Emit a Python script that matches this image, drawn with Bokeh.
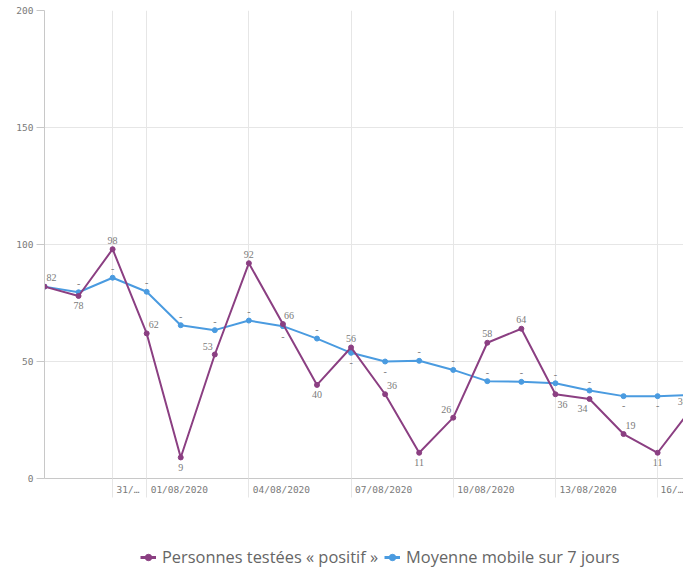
from bokeh.plotting import figure
from bokeh.layouts import column
from bokeh.models import Range1d, FixedTicker, LabelSet, ColumnDataSource, Legend, LegendItem
from bokeh.embed import file_html
from bokeh.resources import INLINE

# ---- data ----
dates = ["29/07/2020", "30/07/2020", "31/07/2020", "01/08/2020", "02/08/2020",
         "03/08/2020", "04/08/2020", "05/08/2020", "06/08/2020", "07/08/2020",
         "08/08/2020", "09/08/2020", "10/08/2020", "11/08/2020", "12/08/2020",
         "13/08/2020", "14/08/2020", "15/08/2020", "16/08/2020", "17/08/2020"]
positifs = [82, 78, 98, 62, 9, 53, 92, 66, 40, 56, 36, 11, 26, 58, 64, 36, 34, 19, 11, 30]
moyenne = [82, 79.6, 85.8, 79.8, 65.5, 63.4, 67.5, 65.1, 59.8, 53.7,
           50.0, 50.3, 46.4, 41.6, 41.3, 40.7, 37.6, 35.2, 35.2, 35.7]
moyenne_text = ["", "-", "-", "-", "-", "-", "-", "-", "-", "-",
                "-", "-", "-", "-", "-", "-", "-", "-", "-", "-"]
tick_dates = ["31/07/2020", "01/08/2020", "04/08/2020", "07/08/2020",
              "10/08/2020", "13/08/2020", "16/08/2020"]
tick_labels = ["31/…", "01/08/2020", "04/08/2020", "07/08/2020",
               "10/08/2020", "13/08/2020", "16/…"]
y_ticks = [0, 50, 100, 150, 200]
series_names = ["Personnes testées « positif »", "Moyenne mobile sur 7 jours"]

# ---- label placement (style) ----
pos_dx = [7, 0, 0, 7, 0, -7, 0, 6, 0, 0, 7, 0, -7, 0, 0, 7, -7, 7, 0, -9]
pos_dy = [9, -10, 9, 9, -10, 8, 9, 9, -10, 9, 9, -10, 8, 9, 9, -10, -10, 9, -10, 7]
moy_dy = [9, 9, 9, 9, 9, 9, 9, -10, 9, -10, -10, 9, 9, 9, 9, 9, 9, -9, -9, 9]

PURPLE = "#8b3f82"
BLUE = "#4a9be0"
GRID = "#e6e6e6"
AXIS = "#c8c8c8"
TXT = "#7a7a7a"
MONO = "DejaVu Sans Mono"
TICK_PX = 9.5

W = 683
MAIN_H, LEG_H = 505, 68
LEFT, TOP, BOTTOM = 44, 10, 27
X_END = 18.76
px_per_unit = (W - LEFT) / X_END

idx = list(range(len(dates)))
tick_idx = [dates.index(d) for d in tick_dates]
# labels start 4px right of their grid line (centre computed from mono glyph width)
label_pos = [t + (4 + len(s) * 0.602 * TICK_PX / 2) / px_per_unit for t, s in zip(tick_idx, tick_labels)]

p = figure(width=W, height=MAIN_H, x_range=Range1d(0, X_END), y_range=Range1d(0, 200),
           output_backend="svg", toolbar_location=None,
           min_border_left=LEFT, min_border_right=0, min_border_top=TOP, min_border_bottom=BOTTOM)
p.outline_line_color = None
p.background_fill_color = "white"
p.border_fill_color = "white"

# y axis
p.yaxis.ticker = FixedTicker(ticks=y_ticks)
p.yaxis.major_tick_out = 8
p.yaxis.major_tick_in = 0
p.yaxis.minor_tick_line_color = None
p.yaxis.major_tick_line_color = AXIS
p.yaxis.axis_line_color = AXIS
p.yaxis.major_label_standoff = 3
p.yaxis.major_label_text_font = MONO
p.yaxis.major_label_text_font_size = f"{TICK_PX}px"
p.yaxis.major_label_text_color = TXT

# x axis: labels at shifted positions, grid-line extensions drawn as minor ticks
p.xaxis.ticker = FixedTicker(ticks=label_pos, minor_ticks=tick_idx)
p.xaxis.major_label_overrides = {pos: lab for pos, lab in zip(label_pos, tick_labels)}
p.xaxis.major_tick_out = 0
p.xaxis.major_tick_in = 0
p.xaxis.major_tick_line_color = None
p.xaxis.minor_tick_out = 19
p.xaxis.minor_tick_in = 0
p.xaxis.minor_tick_line_color = GRID
p.xaxis.axis_line_color = AXIS
p.xaxis.major_label_standoff = -14
p.xaxis.major_label_text_font = MONO
p.xaxis.major_label_text_font_size = f"{TICK_PX}px"
p.xaxis.major_label_text_color = TXT

p.xgrid.ticker = FixedTicker(ticks=tick_idx)
p.xgrid.grid_line_color = GRID
p.ygrid.ticker = FixedTicker(ticks=y_ticks)
p.ygrid.grid_line_color = GRID

src = ColumnDataSource(dict(x=idx, pos=positifs, moy=moyenne,
                            pos_txt=[str(v) for v in positifs], moy_txt=moyenne_text,
                            pdx=pos_dx, pdy=pos_dy, mdy=moy_dy))

p.line("x", "moy", source=src, line_color=BLUE, line_width=2)
p.scatter("x", "moy", source=src, size=5, fill_color=BLUE, line_color=BLUE)
p.line("x", "pos", source=src, line_color=PURPLE, line_width=2)
p.scatter("x", "pos", source=src, size=5, fill_color=PURPLE, line_color=PURPLE)

p.add_layout(LabelSet(x="x", y="pos", text="pos_txt", source=src, x_offset="pdx", y_offset="pdy",
                      text_align="center", text_baseline="middle", text_font=MONO,
                      text_font_size="10px", text_color=TXT))
p.add_layout(LabelSet(x="x", y="moy", text="moy_txt", source=src, y_offset="mdy",
                      text_align="center", text_baseline="middle", text_font=MONO,
                      text_font_size="10px", text_color=TXT))

# ---- legend strip below the chart (its renderers sit outside its own view) ----
lg = figure(width=W, height=LEG_H, x_range=Range1d(-10, -9), y_range=Range1d(-10, -9),
            output_backend="svg", toolbar_location=None,
            min_border_left=0, min_border_right=0, min_border_top=0, min_border_bottom=0)
lg.axis.visible = False
lg.grid.visible = False
lg.outline_line_color = None
l1 = lg.line("x", "pos", source=src, line_color=PURPLE, line_width=3)
c1 = lg.scatter("x", "pos", source=src, size=8, fill_color=PURPLE, line_color=PURPLE)
l2 = lg.line("x", "moy", source=src, line_color=BLUE, line_width=3)
c2 = lg.scatter("x", "moy", source=src, size=8, fill_color=BLUE, line_color=BLUE)
legend = Legend(items=[LegendItem(label=series_names[0], renderers=[l1, c1]),
                       LegendItem(label=series_names[1], renderers=[l2, c2])],
                location=(96, 5), orientation="horizontal",
                border_line_color=None, background_fill_alpha=0,
                padding=0, margin=0, spacing=6, label_standoff=6,
                glyph_width=16, glyph_height=20,
                label_text_font="Open Sans", label_text_font_size="16.4px",
                label_text_color="#666666")
lg.add_layout(legend)

layout = column(p, lg, spacing=0)
open("out.html", "w").write(file_html(layout, INLINE))
